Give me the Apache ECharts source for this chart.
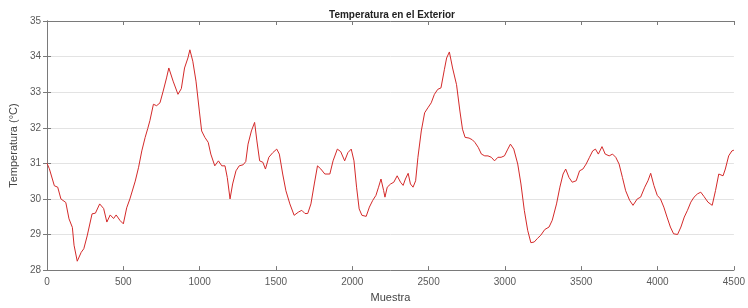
<!DOCTYPE html>
<html>
<head>
<meta charset="utf-8">
<script src="https://cdn.jsdelivr.net/npm/echarts@6/dist/echarts.min.js"></script>
<style>
html,body{margin:0;padding:0;background:#fff;}
#chart{width:748px;height:308px;}
</style>
</head>
<body>
<div id="chart"></div>
<script>
var samples = [0,15,48,70,91,123,144,166,177,198,224,241,263,295,317,345,371,392,414,436,453,479,500,522,543,556,578,600,621,643,660,674,697,718,740,761,783,798,826,858,880,901,923,936,955,976,998,1013,1034,1056,1073,1099,1123,1145,1166,1181,1199,1216,1238,1259,1285,1302,1317,1339,1360,1375,1393,1414,1431,1453,1479,1505,1522,1544,1565,1591,1619,1647,1669,1690,1708,1729,1751,1772,1794,1820,1853,1874,1902,1924,1950,1971,1993,2011,2028,2045,2063,2091,2112,2134,2155,2172,2188,2205,2214,2229,2251,2272,2294,2316,2333,2348,2366,2381,2398,2415,2430,2452,2474,2495,2517,2538,2560,2581,2603,2618,2636,2657,2683,2705,2722,2739,2765,2787,2803,2825,2846,2868,2889,2911,2932,2954,2975,2997,3019,3036,3058,3084,3105,3127,3149,3170,3192,3213,3235,3261,3289,3310,3338,3360,3381,3398,3420,3441,3467,3489,3511,3532,3554,3575,3593,3612,3636,3657,3683,3705,3726,3748,3770,3791,3817,3839,3867,3889,3916,3937,3955,3976,3998,4019,4041,4062,4084,4105,4131,4153,4175,4196,4218,4239,4261,4283,4304,4330,4358,4380,4401,4429,4444,4466,4487,4500];
var temps = [31.0,30.85,30.37,30.33,30.0,29.9,29.44,29.2,28.7,28.25,28.5,28.6,28.96,29.58,29.6,29.86,29.73,29.35,29.55,29.45,29.55,29.39,29.3,29.75,30.0,30.05,30.5,30.89,31.35,31.73,31.98,32.2,32.66,32.62,32.7,33.03,33.4,33.68,33.31,32.94,33.1,33.68,33.96,34.19,33.87,33.31,32.47,31.91,31.73,31.59,31.26,30.93,31.07,30.93,30.93,30.6,30.0,30.42,30.79,30.93,30.96,31.05,31.54,31.91,32.15,31.63,31.07,31.03,30.84,31.17,31.3,31.4,31.26,30.7,30.23,29.86,29.54,29.63,29.68,29.59,29.59,29.86,30.42,30.93,30.84,30.7,30.7,31.07,31.4,31.33,31.07,31.3,31.4,31.07,30.33,29.72,29.54,29.51,29.77,29.96,30.1,30.33,30.56,30.24,30.05,30.33,30.42,30.47,30.65,30.47,30.38,30.56,30.72,30.42,30.33,30.51,31.17,31.91,32.42,32.56,32.7,32.94,33.08,33.12,33.63,33.96,34.13,33.68,33.21,32.47,31.96,31.73,31.71,31.66,31.59,31.45,31.26,31.21,31.21,31.17,31.07,31.17,31.17,31.21,31.4,31.54,31.4,30.98,30.42,29.68,29.12,28.77,28.79,28.89,28.98,29.14,29.21,29.4,29.86,30.33,30.7,30.84,30.6,30.47,30.51,30.79,30.84,30.98,31.17,31.35,31.4,31.26,31.47,31.26,31.21,31.26,31.17,30.98,30.6,30.23,29.96,29.82,30.0,30.05,30.33,30.51,30.72,30.38,30.1,30.0,29.77,29.49,29.21,29.02,29.0,29.21,29.49,29.68,29.91,30.05,30.14,30.19,30.07,29.91,29.82,30.24,30.7,30.65,30.84,31.21,31.35,31.37];
var xTicks = {min: 0, max: 4500, interval: 500};
var yTicks = {min: 28, max: 35, interval: 1};
var titleText = 'Temperatura en el Exterior';
var xName = 'Muestra';
var yName = 'Temperatura (°C)';

var seriesData = samples.map(function (s, i) { return [s, temps[i]]; });
var axisColor = '#7a7a7a';
var labelStyle = {color: '#5a5a5a', fontSize: 10, fontFamily: 'Arial, Liberation Sans, sans-serif'};

var chart = echarts.init(document.getElementById('chart'), null, {renderer: 'canvas'});
chart.setOption({
  animation: false,
  backgroundColor: '#ffffff',
  title: {
    text: titleText, left: 387, top: 5, textAlign: 'center',
    textStyle: {fontSize: 10, fontWeight: 'bold', color: '#222', fontFamily: 'Arial, Liberation Sans, sans-serif'}
  },
  grid: {left: 39, right: 12, top: 21, bottom: 36, containLabel: false},
  xAxis: [{
    type: 'value', min: xTicks.min, max: xTicks.max, interval: xTicks.interval,
    name: xName, nameLocation: 'middle', nameGap: 20,
    nameTextStyle: {color: '#444', fontSize: 11, fontFamily: 'Arial, Liberation Sans, sans-serif'},
    axisLine: {show: true, lineStyle: {color: axisColor, width: 1}},
    axisTick: {show: true, inside: true, length: 4, lineStyle: {color: axisColor}},
    axisLabel: Object.assign({margin: 7, formatter: function (v) { return String(v); }}, labelStyle),
    splitLine: {show: false}
  }, {
    type: 'value', position: 'top', min: xTicks.min, max: xTicks.max, interval: xTicks.interval,
    axisLine: {show: true, lineStyle: {color: axisColor, width: 1}},
    axisTick: {show: true, inside: true, length: 4, lineStyle: {color: axisColor}},
    axisLabel: {show: false}, splitLine: {show: false}
  }],
  yAxis: [{
    type: 'value', min: yTicks.min, max: yTicks.max, interval: yTicks.interval,
    name: yName, nameLocation: 'middle', nameGap: 23,
    nameTextStyle: {color: '#444', fontSize: 11, fontFamily: 'Arial, Liberation Sans, sans-serif'},
    axisLine: {show: true, lineStyle: {color: axisColor, width: 1}},
    axisTick: {show: true, inside: true, length: 4, lineStyle: {color: axisColor}},
    axisLabel: Object.assign({margin: 6, formatter: function (v) { return String(v); }}, labelStyle),
    splitLine: {show: true, lineStyle: {color: '#e3e3e3', width: 1}}
  }, {
    type: 'value', position: 'right', min: yTicks.min, max: yTicks.max, interval: yTicks.interval,
    axisLine: {show: true, lineStyle: {color: axisColor, width: 1}},
    axisTick: {show: true, inside: true, length: 4, lineStyle: {color: axisColor}},
    axisLabel: {show: false}, splitLine: {show: false}
  }],
  series: [{
    type: 'line', xAxisIndex: 0, yAxisIndex: 0,
    data: seriesData, showSymbol: false, symbol: 'none',
    lineStyle: {color: '#d42a2a', width: 1},
    silent: true
  }]
});
</script>
</body>
</html>
